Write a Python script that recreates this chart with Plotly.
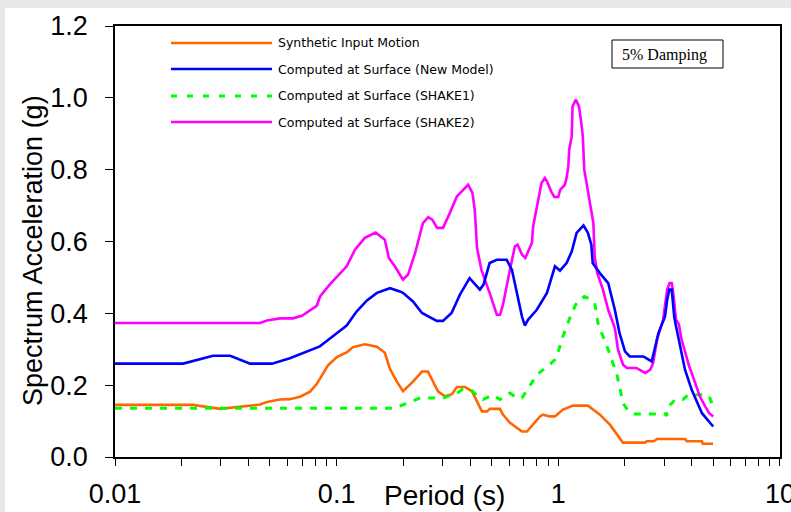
import plotly.graph_objects as go

# Response spectra, 5% damping: period (s) and spectral acceleration (g)
input_T = [0.01, 0.0225, 0.0298, 0.0331, 0.0407, 0.0451, 0.0485, 0.0555, 0.0615, 0.0684,
           0.0759, 0.0813, 0.0914, 0.1003, 0.1114, 0.1186, 0.134, 0.152, 0.165, 0.174,
           0.187, 0.1992, 0.221, 0.2427, 0.2582, 0.272, 0.2865, 0.3082, 0.3313, 0.349,
           0.379, 0.4077, 0.4296, 0.4525, 0.4767, 0.4918, 0.5455, 0.5628, 0.6053, 0.6856,
           0.7222, 0.7687, 0.8268, 0.853, 0.917, 0.966, 1.05, 1.165, 1.361, 1.542,
           1.71, 1.957, 2.46, 2.51, 2.70, 2.787, 3.73, 3.805, 4.447, 4.49, 4.99]
input_Sa = [0.145, 0.145, 0.134, 0.137, 0.145, 0.146, 0.153, 0.160, 0.161, 0.168,
            0.182, 0.203, 0.255, 0.278, 0.292, 0.306, 0.314, 0.307, 0.290, 0.245,
            0.210, 0.183, 0.210, 0.238, 0.238, 0.210, 0.183, 0.169, 0.175, 0.195,
            0.195, 0.183, 0.155, 0.127, 0.127, 0.134, 0.134, 0.118, 0.095, 0.071,
            0.071, 0.090, 0.113, 0.118, 0.113, 0.113, 0.132, 0.143, 0.143, 0.118,
            0.090, 0.040, 0.040, 0.044, 0.044, 0.050, 0.050, 0.044, 0.044, 0.037, 0.037]

newmodel_T = [0.01, 0.0203, 0.0277, 0.0331, 0.0407, 0.0511, 0.0615, 0.0706, 0.084, 0.0962,
              0.111, 0.123, 0.137, 0.152, 0.174, 0.193, 0.1992, 0.221, 0.2376, 0.2427,
              0.283, 0.3017, 0.33, 0.353, 0.36, 0.398, 0.443, 0.46, 0.49, 0.528,
              0.585, 0.618, 0.651, 0.686, 0.707, 0.73, 0.80, 0.889, 0.966, 1.018,
              1.09, 1.15, 1.21, 1.30, 1.36, 1.41, 1.43, 1.54, 1.68, 1.80,
              1.89, 2.0, 2.1, 2.42, 2.64, 2.70, 2.83, 3.03, 3.10, 3.17,
              3.25, 3.34, 3.5, 3.73, 3.84, 4.0, 4.45, 4.8, 5.0]
newmodel_Sa = [0.260, 0.260, 0.282, 0.282, 0.260, 0.260, 0.275, 0.290, 0.308, 0.336,
               0.366, 0.405, 0.436, 0.457, 0.470, 0.461, 0.457, 0.433, 0.410, 0.401,
               0.379, 0.379, 0.401, 0.438, 0.452, 0.498, 0.466, 0.480, 0.540, 0.549,
               0.549, 0.521, 0.457, 0.391, 0.366, 0.382, 0.410, 0.457, 0.531, 0.519,
               0.540, 0.572, 0.624, 0.645, 0.624, 0.591, 0.540, 0.512, 0.484, 0.410,
               0.345, 0.294, 0.280, 0.280, 0.266, 0.290, 0.345, 0.391, 0.438, 0.466,
               0.466, 0.387, 0.327, 0.243, 0.220, 0.187, 0.122, 0.099, 0.085]

shake1_T = [0.01, 0.180, 0.193, 0.2077, 0.2376, 0.3017, 0.349, 0.3715, 0.4077, 0.434,
            0.457, 0.5074, 0.5455, 0.6053, 0.651, 0.6856, 0.745, 0.80, 0.915, 0.966,
            1.0, 1.05, 1.15, 1.21, 1.31, 1.41, 1.46, 1.49, 1.51, 1.57,
            1.67, 1.84, 1.96, 2.05, 2.17, 3.03, 3.08, 3.125, 3.257, 3.36,
            3.65, 3.845, 4.49, 4.59, 4.83, 4.93]
shake1_Sa = [0.136, 0.136, 0.142, 0.150, 0.164, 0.164, 0.178, 0.189, 0.185, 0.169,
             0.160, 0.173, 0.160, 0.178, 0.164, 0.164, 0.197, 0.229, 0.257, 0.271,
             0.294, 0.336, 0.401, 0.429, 0.447, 0.438, 0.429, 0.401, 0.373, 0.345,
             0.303, 0.229, 0.150, 0.132, 0.120, 0.120, 0.115, 0.141, 0.150, 0.160,
             0.160, 0.173, 0.173, 0.164, 0.164, 0.150]

shake2_T = [0.01, 0.0451, 0.0485, 0.0555, 0.0635, 0.0697, 0.0813, 0.0842, 0.093, 0.111,
            0.121, 0.134, 0.150, 0.165, 0.172, 0.183, 0.1992, 0.21, 0.226, 0.245,
            0.259, 0.27, 0.284, 0.302, 0.324, 0.349, 0.366, 0.392, 0.41, 0.42,
            0.43, 0.45, 0.49, 0.528, 0.546, 0.563, 0.605, 0.637, 0.655, 0.687,
            0.71, 0.76, 0.77, 0.81, 0.84, 0.87, 0.89, 0.93, 0.96, 1.0,
            1.02, 1.07, 1.09, 1.11, 1.12, 1.15, 1.16, 1.20, 1.24, 1.27,
            1.29, 1.31, 1.36, 1.41, 1.44, 1.46, 1.50, 1.59, 1.68, 1.80,
            1.86, 1.96, 2.04, 2.25, 2.47, 2.6, 2.68, 2.79, 2.97, 3.1,
            3.18, 3.25, 3.3, 3.4, 3.5, 3.6, 3.8, 3.9, 4.1, 4.35,
            4.6, 4.8, 5.0]
shake2_Sa = [0.373, 0.373, 0.380, 0.386, 0.386, 0.393, 0.421, 0.447, 0.480, 0.531,
             0.577, 0.610, 0.625, 0.605, 0.554, 0.531, 0.494, 0.508, 0.568, 0.651,
             0.668, 0.661, 0.638, 0.638, 0.679, 0.726, 0.739, 0.758, 0.735, 0.688,
             0.582, 0.521, 0.457, 0.396, 0.396, 0.424, 0.521, 0.586, 0.591, 0.563,
             0.554, 0.596, 0.642, 0.707, 0.763, 0.777, 0.767, 0.739, 0.724, 0.724,
             0.744, 0.758, 0.777, 0.809, 0.855, 0.893, 0.976, 0.995, 0.976, 0.930,
             0.893, 0.800, 0.744, 0.679, 0.651, 0.558, 0.512, 0.466, 0.410, 0.359,
             0.299, 0.257, 0.248, 0.248, 0.234, 0.243, 0.262, 0.327, 0.382, 0.466,
             0.484, 0.484, 0.457, 0.382, 0.370, 0.327, 0.271, 0.252, 0.215, 0.169,
             0.141, 0.122, 0.113]

series_names = ["Synthetic Input Motion",
                "Computed at Surface (New Model)",
                "Computed at Surface (SHAKE1)",
                "Computed at Surface (SHAKE2)"]

# Axis ticks: decades labelled, intermediate log ticks unlabelled
x_tickvals = [m * 10.0 ** e for e in (-2, -1, 0) for m in range(1, 10)] + [10]
x_ticktext = ["0.01" if v == 0.01 else "0.1" if v == 0.1 else "1" if v == 1 else "10" if v == 10 else ""
              for v in x_tickvals]
y_tickvals = [0.0, 0.2, 0.4, 0.6, 0.8, 1.0, 1.2]

ORANGE = "#FF6600"
BLUE = "#0000FF"
GREEN = "#00FF00"
MAGENTA = "#FF00FF"
SANS = "Liberation Sans, Arial"

fig = go.Figure()
fig.add_trace(go.Scatter(x=input_T, y=input_Sa, mode="lines", name=series_names[0],
                         line=dict(color=ORANGE, width=2.6)))
fig.add_trace(go.Scatter(x=shake1_T, y=shake1_Sa, mode="lines", name=series_names[2],
                         line=dict(color=GREEN, width=3, dash="7px,8px")))
fig.add_trace(go.Scatter(x=shake2_T, y=shake2_Sa, mode="lines", name=series_names[3],
                         line=dict(color=MAGENTA, width=2.6)))
fig.add_trace(go.Scatter(x=newmodel_T, y=newmodel_Sa, mode="lines", name=series_names[1],
                         line=dict(color=BLUE, width=2.6)))

# Plot-area geometry in pixels, used to place decorations in paper coordinates
L, R, T, B = 115, 780, 26, 457
W, H = R - L, B - T


def px(x):
    return (x - L) / W


def py(y):
    return (B - y) / H


shapes = []
annotations = []

# Hand-built legend with long line swatches
legend_rows = [(43, ORANGE, "solid", series_names[0]),
               (69, BLUE, "solid", series_names[1]),
               (96, GREEN, "6px,10px", series_names[2]),
               (122, MAGENTA, "solid", series_names[3])]
for ypix, col, dash, label in legend_rows:
    shapes.append(dict(type="line", xref="paper", yref="paper",
                       x0=px(171), x1=px(272), y0=py(ypix), y1=py(ypix),
                       line=dict(color=col, width=3 if dash != "solid" else 2.6, dash=dash)))
    annotations.append(dict(xref="paper", yref="paper", x=px(276), y=py(ypix),
                            xanchor="left", yanchor="middle", showarrow=False, text=label,
                            font=dict(family="DejaVu Sans", size=12.5, color="#000")))

# Damping note in a framed box
shapes.append(dict(type="rect", xref="paper", yref="paper",
                   x0=px(612), x1=px(723), y0=py(68), y1=py(40),
                   line=dict(color="#000", width=1), fillcolor="white"))
annotations.append(dict(xref="paper", yref="paper", x=px(664), y=py(54.5),
                        xanchor="center", yanchor="middle", showarrow=False, text="5% Damping",
                        font=dict(family="Liberation Serif, Times New Roman", size=16, color="#000")))

# Axis titles
annotations.append(dict(xref="paper", yref="paper", x=px(33), y=py(251),
                        xanchor="center", yanchor="middle", showarrow=False,
                        text="Spectrum Acceleration (g)", textangle=-90,
                        font=dict(family=SANS, size=27, color="#000")))
annotations.append(dict(xref="paper", yref="paper", x=px(444), y=py(495),
                        xanchor="center", yanchor="middle", showarrow=False,
                        text="Period (s)",
                        font=dict(family=SANS, size=28, color="#000")))

# Grey page edges around the white chart sheet
shapes.append(dict(type="rect", xref="paper", yref="paper", layer="below",
                   x0=px(0), x1=px(791), y0=py(8), y1=py(0),
                   line=dict(width=0), fillcolor="#e8e8e8"))
shapes.append(dict(type="rect", xref="paper", yref="paper", layer="below",
                   x0=px(0), x1=px(5), y0=py(512), y1=py(0),
                   line=dict(width=0), fillcolor="#e8e8e8"))

fig.update_layout(
    width=791, height=512,
    margin=dict(l=L, r=791 - R, t=T, b=512 - B, autoexpand=False),
    paper_bgcolor="white", plot_bgcolor="white",
    showlegend=False,
    font=dict(family=SANS, color="#000"),
    shapes=shapes, annotations=annotations,
    xaxis=dict(type="log", range=[-2, 1.0004], tickvals=x_tickvals, ticktext=x_ticktext,
               ticks="outside", ticklen=7, tickcolor="#000", tickwidth=1,
               showline=True, linecolor="#000", linewidth=1.5, mirror=True,
               showgrid=False, zeroline=False, automargin=False,
               ticklabeloverflow="allow",
               tickfont=dict(size=27, family=SANS, color="#000"),
               ticklabelstandoff=5),
    yaxis=dict(range=[0, 1.2], tickvals=y_tickvals, tickformat=".1f",
               ticks="outside", ticklen=8, tickcolor="#000", tickwidth=1,
               showline=True, linecolor="#000", linewidth=1.5, mirror=True,
               showgrid=False, zeroline=False, automargin=False,
               tickfont=dict(size=27, family=SANS, color="#000"),
               ticklabelstandoff=12),
)

fig.write_html("out.html")
